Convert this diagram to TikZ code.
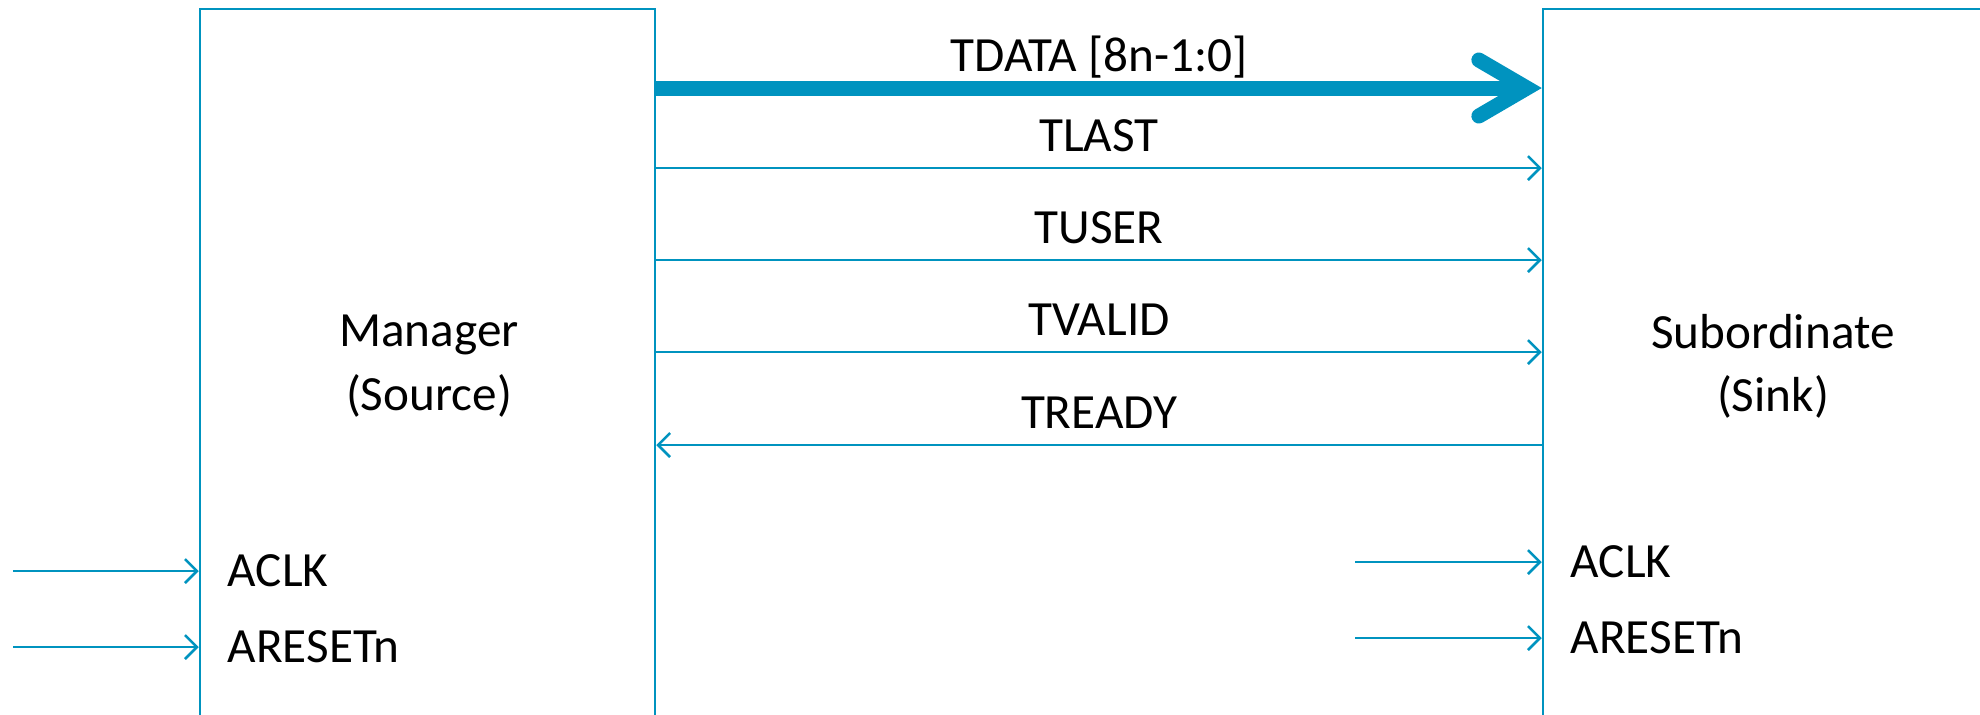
\documentclass[tikz,border=0pt]{standalone}
\usepackage{fontspec}
\setmainfont{Carlito}
\usetikzlibrary{arrows.meta,positioning}
\definecolor{Wire}{HTML}{0093BF}

\begin{document}
\begin{tikzpicture}[
  x=0.1mm,y=-0.1mm,
  every node/.style={font=\fontsize{14}{18}\selectfont},
  block/.style={draw=Wire,line width=0.25mm,minimum height=80mm,inner sep=0pt},
  sig/.style={draw=Wire,line width=0.25mm,-{Straight Barb[length=1.2mm,width=2.4mm]}},
  bus/.style={draw=Wire,line width=1.5mm,-{Straight Barb[length=4.8mm,width=5.6mm,line cap=round,line join=miter]}},
  siglabel/.style={anchor=base,yshift=1.7mm},
  pinlabel/.style={anchor=west,xshift=1.6mm}
]
  \clip (0,0) rectangle (1980,714);
  % the two ends of the stream
  \node[block,minimum width=45.5mm] (manager) at (427.5,409) {};
  \node[block,minimum width=50mm] (sub) at (1793,409) {};
  \node[align=center] (managertxt) at (429,366) {Manager\\(Source)};
  \node[align=center] (subtxt) at (1773,366) {Subordinate\\(Sink)};
  % signal levels
  \foreach \lvl/\yy in {tdata/88,tlast/168,tuser/260,tvalid/352,tready/445}
    \coordinate (\lvl) at (0,\yy);
  \draw[bus] (manager.east |- tdata) -- node[siglabel] {TDATA [8n-1:0]} (sub.west |- tdata);
  \foreach \lvl/\txt in {tlast/TLAST,tuser/TUSER,tvalid/TVALID}
    \draw[sig] (manager.east |- \lvl) -- node[siglabel] {\txt} (sub.west |- \lvl);
  \draw[sig] (sub.west |- tready) -- node[siglabel] {TREADY} (manager.east |- tready);
  % clock and reset
  \coordinate (mclk) at (13,571);
  \coordinate (mrst) at (13,647);
  \coordinate (sclk) at (1355,562);
  \coordinate (srst) at (1355,638);
  \draw[sig] (mclk) -- (manager.west |- mclk) node[pinlabel] (mclklbl) {ACLK};
  \draw[sig] (mrst) -- (manager.west |- mrst) node[pinlabel] (mrstlbl) {ARESETn};
  \draw[sig] (sclk) -- (sub.west |- sclk) node[pinlabel] (sclklbl) {ACLK};
  \draw[sig] (srst) -- (sub.west |- srst) node[pinlabel] (srstlbl) {ARESETn};
\end{tikzpicture}
\end{document}
